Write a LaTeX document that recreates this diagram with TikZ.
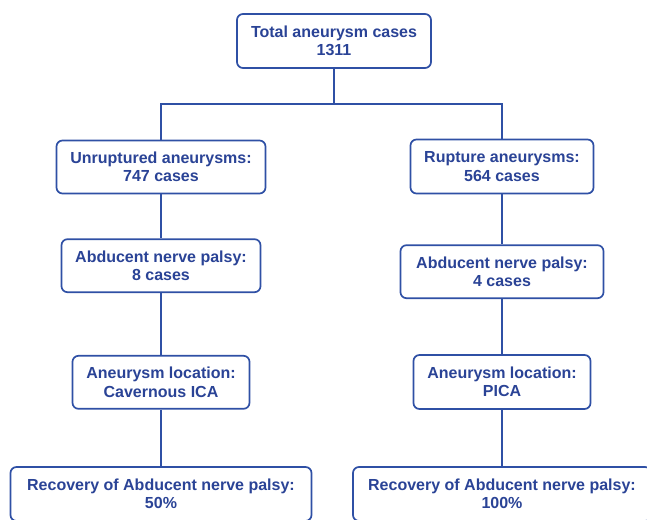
\documentclass[tikz,border=0pt]{standalone}
\usepackage{fontspec}
\setmainfont{Liberation Sans}
\definecolor{txtblue}{HTML}{2A4396}
\definecolor{lineblue}{HTML}{2F50A5}
\begin{document}
\begin{tikzpicture}[x=1pt,y=-1pt,
  box/.style={draw=lineblue, line width=1.7pt, rounded corners=6pt, fill=white,
    align=center, text=txtblue, inner sep=0pt,
    font=\fontsize{16}{18.5}\selectfont\bfseries},
  conn/.style={draw=lineblue, line width=1.7pt}]
\useasboundingbox (0,0) rectangle (647,519);
\node[box, minimum width=194pt, minimum height=54pt] (top) at (334,41) {Total aneurysm cases\\1311};
\node[box, minimum width=209pt, minimum height=53pt] (unr) at (161,167) {Unruptured aneurysms:\\747 cases};
\node[box, minimum width=183pt, minimum height=54pt] (rup) at (502,166.5) {Rupture aneurysms:\\564 cases};
\node[box, minimum width=199pt, minimum height=53pt] (abdL) at (161,265.7) {Abducent nerve palsy:\\8 cases};
\node[box, minimum width=203pt, minimum height=53pt] (abdR) at (502,271.7) {Abducent nerve palsy:\\4 cases};
\node[box, minimum width=177pt, minimum height=53pt] (locL) at (161,382.3) {Aneurysm location:\\Cavernous ICA};
\node[box, minimum width=177pt, minimum height=54pt] (locR) at (502,382) {Aneurysm location:\\PICA};
\node[box, minimum width=301pt, minimum height=54pt] (recL) at (161,494) {Recovery of Abducent nerve palsy:\\50\%};
\node[box, minimum width=298pt, minimum height=54pt] (recR) at (502,494) {Recovery of Abducent nerve palsy:\\100\%};
\coordinate (j) at (334,104);
\draw[conn] (top.south) -- (j);
\draw[conn] (unr.north) |- (j);
\draw[conn] (rup.north) |- (j);
\draw[conn] (unr.south) -- (abdL.north);
\draw[conn] (abdL.south) -- (locL.north);
\draw[conn] (locL.south) -- (recL.north);
\draw[conn] (rup.south) -- (abdR.north);
\draw[conn] (abdR.south) -- (locR.north);
\draw[conn] (locR.south) -- (recR.north);
\end{tikzpicture}
\end{document}
